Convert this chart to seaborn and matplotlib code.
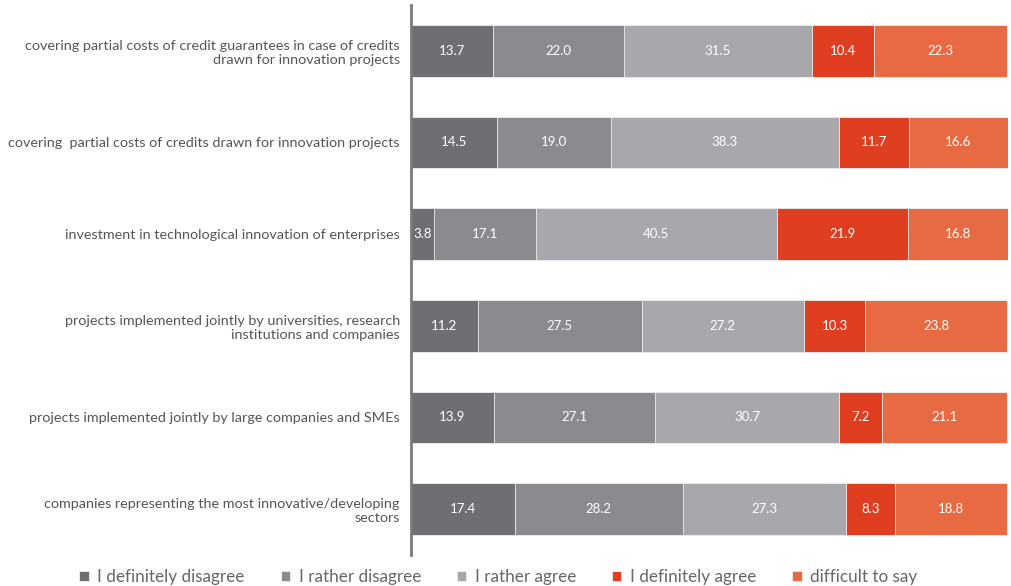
import matplotlib
matplotlib.use("Agg")
import matplotlib.pyplot as plt
import seaborn as sns
import pandas as pd
import numpy as np

categories = [
    "covering partial costs of credit guarantees in case of credits\ndrawn for innovation projects",
    "covering  partial costs of credits drawn for innovation projects",
    "investment in technological innovation of enterprises",
    "projects implemented jointly by universities, research\ninstitutions and companies",
    "projects implemented jointly by large companies and SMEs",
    "companies representing the most innovative/developing\nsectors",
]
responses = ["I definitely disagree", "I rather disagree", "I rather agree",
             "I definitely agree", "difficult to say"]

definitely_disagree = [13.7, 14.5, 3.8, 11.2, 13.9, 17.4]
rather_disagree = [22.0, 19.0, 17.1, 27.5, 27.1, 28.2]
rather_agree = [31.5, 38.3, 40.5, 27.2, 30.7, 27.3]
definitely_agree = [10.4, 11.7, 21.9, 10.3, 7.2, 8.3]
difficult_to_say = [22.3, 16.6, 16.8, 23.8, 21.1, 18.8]

colors = ["#6f6e73", "#8b8a8f", "#a8a7ab", "#e03e20", "#e86a42"]

df = pd.DataFrame(
    np.column_stack([definitely_disagree, rather_disagree, rather_agree,
                     definitely_agree, difficult_to_say]),
    index=categories, columns=responses,
)
cum = df.cumsum(axis=1)

sns.set_theme(style="white")
plt.rcParams["font.family"] = ["Lato", "DejaVu Sans"]

fig = plt.figure(figsize=(10.11, 5.86), dpi=100)
ax = fig.add_axes([0.4065, 0.0529, 0.5905, 0.9386])

# stacked bars: draw cumulative totals from widest to narrowest
for resp, col in reversed(list(zip(responses, colors))):
    sns.barplot(x=cum[resp].values, y=categories, orient="h", color=col,
                saturation=1, width=0.565, edgecolor="#f0f0f0",
                linewidth=0.6, ax=ax, label=resp)

# value labels centered in each segment
for i, cat in enumerate(categories):
    for resp in responses:
        v = df.loc[cat, resp]
        x = cum.loc[cat, resp] - v / 2
        ax.text(x, i, f"{v:.1f}", ha="center", va="center",
                color="white", fontsize=9.5)

ax.set_xlim(0, 100.1)
ax.set_ylim(5.5, -0.5)
ax.set_xlabel("")
ax.set_ylabel("")
ax.set_xticks([])
ax.tick_params(axis="y", length=0, pad=8, labelsize=10.4, labelcolor="#555555")
for lbl in ax.get_yticklabels():
    lbl.set_multialignment("right")
for s in ["top", "right", "bottom"]:
    ax.spines[s].set_visible(False)
ax.spines["left"].set_color("#7a7a7a")
ax.spines["left"].set_linewidth(2)

handles, labels = ax.get_legend_handles_labels()
order = [labels.index(r) for r in responses]
ax.legend([handles[k] for k in order], [labels[k] for k in order],
          loc="center", bbox_to_anchor=(0.493, 0.015),
          bbox_transform=fig.transFigure, ncol=5, frameon=False,
          fontsize=12.3, labelcolor="#666666", handlelength=0.55,
          handleheight=0.55, handletextpad=0.5, columnspacing=2.1)

fig.savefig("out.png", dpi=100)
